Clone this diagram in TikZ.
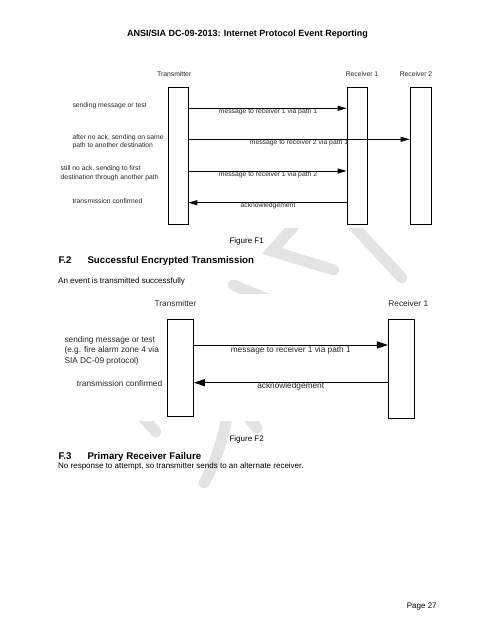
\documentclass[tikz,border=0pt]{standalone}
\usepackage{fontspec}
\setmainfont{Liberation Sans}
\usetikzlibrary{arrows.meta}
\begin{document}
\begin{tikzpicture}[x=1pt,y=-1pt,
  doc/.style={font=\fontsize{8}{9.6}\selectfont, inner sep=0pt, anchor=base west},
  head/.style={font=\bfseries\fontsize{9.7}{11}\selectfont, inner sep=0pt, anchor=base west},
  wm/.style={line width=11pt, draw=black!11, line cap=round, line join=miter},
  lifeA/.style={draw, line width=0.7pt, minimum width=20pt, minimum height=137pt, inner sep=0pt},
  lifeB/.style={draw, line width=0.9pt, inner sep=0pt},
  msgA/.style={line width=0.8pt, -{Triangle[length=9pt,width=5pt]}},
  msgB/.style={line width=1pt, -{Triangle[length=11pt,width=7pt]}},
  labA/.style={font=\fontsize{6.8}{8.3}\selectfont, inner sep=0pt, text=black!85},
  labB/.style={font=\fontsize{8.3}{10.5}\selectfont, inner sep=0pt, text=black!85}]
\useasboundingbox[fill=white] (0,0) rectangle (495,640);

% watermark
\begin{scope}
  \clip (0,228.5) rectangle (495,293);
  \draw[wm] (299,220) -- (272,251) -- (334,270);
  \draw[wm] (348,220) -- (402,278);
  \draw[wm] (233,285) -- (275,302);
\end{scope}
\begin{scope}
  \clip (0,421.5) rectangle (495,640);
  \draw[wm] (229,405) .. controls (224,440) and (214,465) .. (204,483);
  \draw[wm] (242,410) -- (257,428);
  \draw[wm] (138,412) -- (156,432);
\end{scope}

% page text
\node[font=\bfseries\fontsize{9}{11}\selectfont, inner sep=0pt, anchor=base] (title) at (247.5,36.7) {ANSI/SIA DC-09-2013: Internet Protocol Event Reporting};
\node[doc, anchor=base] (fig1) at (246.7,243.7) {Figure F1};
\node[head] (h2n) at (58.3,263.7) {F.2};
\node[head] (h2t) at (87.3,263.7) {Successful Encrypted Transmission};
\node[doc] (p2) at (58,283) {An event is transmitted successfully};
\node[doc, anchor=base] (fig2) at (246.7,441.3) {Figure F2};
\node[head] (h3n) at (58.3,459.5) {F.3};
\node[head] (h3t) at (87.3,459.5) {Primary Receiver Failure};
\node[doc] (p3) at (58,468.7) {No response to attempt, so transmitter sends to an alternate receiver.};
\node[doc] (pg) at (406.7,608.3) {Page 27};

% Figure F1
\node[labA] (tl1) at (174.2,74) {Transmitter};
\node[labA] (rl1) at (362,74) {Receiver 1};
\node[labA] (rl2) at (416,74) {Receiver 2};
\node[lifeA] (t1) at (178,155.5) {};
\node[lifeA, minimum width=20.7pt] (r1) at (357.3,155.5) {};
\node[lifeA, minimum width=21pt] (r2) at (420.5,155.5) {};
\coordinate (ya) at (0,108.3);
\coordinate (yb) at (0,139.3);
\coordinate (yc) at (0,171);
\coordinate (yd) at (0,202.7);
\draw[msgA] (t1.east |- ya) -- (r1.west |- ya);
\draw[msgA] (t1.east |- yb) -- (r2.west |- yb);
\draw[msgA] (t1.east |- yc) -- (r1.west |- yc);
\draw[msgA] (r1.west |- yd) -- (t1.east |- yd);
\node[labA] (ma) at (268,111.7) {message to receiver 1 via path 1};
\node[labA] (mb) at (299,142.6) {message to receiver 2 via path 1};
\node[labA] (mc) at (268,175) {message to receiver 1 via path 2};
\node[labA] (md) at (268,206) {acknowledgement};
\node[labA, anchor=west] (la) at (72.3,106.2) {sending message or test};
\node[labA, anchor=west, align=left] (lb) at (72.3,141.9) {after no ack, sending on same\\path to another destination};
\node[labA, anchor=west, align=left] (lc) at (60.5,173.2) {still no ack, sending to first\\destination through another path};
\node[labA, anchor=west] (ld) at (72.3,201) {transmission confirmed};

% Figure F2
\node[labB] (tl2) at (175.5,303.3) {Transmitter};
\node[labB] (rl3) at (408.3,303.3) {Receiver 1};
\node[lifeB, minimum width=26.3pt, minimum height=97.7pt] (t2) at (180.2,367.9) {};
\node[lifeB, minimum width=26pt, minimum height=99.3pt] (r3) at (401.3,368.7) {};
\coordinate (ye) at (0,345);
\coordinate (yf) at (0,382.7);
\draw[msgB] (t2.east |- ye) -- (r3.west |- ye);
\draw[msgB] (r3.west |- yf) -- (t2.east |- yf);
\node[labB] (me) at (290.8,350) {message to receiver 1 via path 1};
\node[labB] (mf) at (290.7,386.5) {acknowledgement};
\node[labB, anchor=west, align=left] (le) at (64.3,350.7) {sending message or test\\(e.g. fire alarm zone 4 via\\SIA DC-09 protocol)};
\node[labB, anchor=west] (lf) at (76.7,383.3) {transmission confirmed};
\end{tikzpicture}
\end{document}
